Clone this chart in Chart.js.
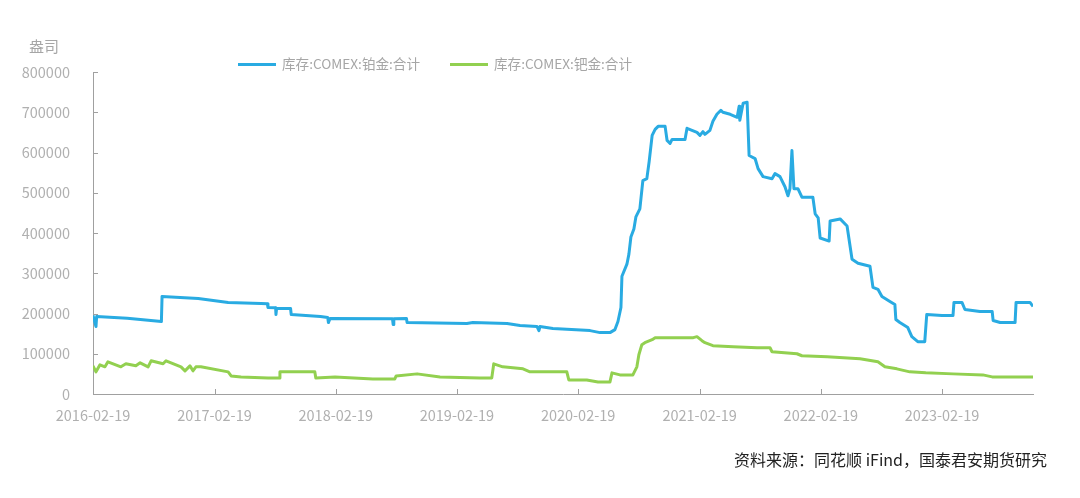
<!DOCTYPE html>
<html>
<head>
<meta charset="utf-8">
<script src="https://cdn.jsdelivr.net/npm/chart.js@4"></script>
<style>
  body { margin: 0; background: #fff; }
  #wrap { position: relative; width: 1080px; height: 498px; font-family: "Noto Sans CJK SC", "Noto Sans", sans-serif; }
  #unit { position: absolute; left: 29px; top: 35px; font-size: 15px; color: #a6a6a6; }
  .leg { position: absolute; top: 53px; font-size: 13.6px; color: #a6a6a6; line-height: 20px; }
  .leg i { display: inline-block; width: 38px; height: 3px; vertical-align: middle; margin-right: 6px; position: relative; top: -1px; }
  #src { position: absolute; right: 33px; top: 447px; font-size: 16px; color: #222; }
</style>
</head>
<body>
<div id="wrap">
  <canvas id="c" width="1080" height="498"></canvas>
  <div id="unit">盎司</div>
  <div class="leg" style="left:238px"><i style="background:#29abe2"></i>库存:COMEX:铂金:合计</div>
  <div class="leg" style="left:450px"><i style="background:#92d050"></i>库存:COMEX:钯金:合计</div>
  <div id="src">资料来源：同花顺 iFind，国泰君安期货研究</div>
</div>
<script>
// 铂金库存
const platDates = ['2016-02-19','2016-02-28','2016-03-01','2016-06-01','2016-09-12','2016-09-14','2017-01-01','2017-04-01','2017-07-09',
  '2017-07-28','2017-07-30','2017-08-22','2017-08-23','2017-08-25','2017-10-06','2017-10-08','2018-01-04','2018-01-26','2018-01-28',
  '2018-02-02','2018-08-09','2018-08-11','2018-08-13','2018-09-20','2018-09-22','2019-03-21','2019-04-08','2019-07-20','2019-08-28',
  '2019-10-18','2019-10-24','2019-10-27','2019-12-05','2020-03-26','2020-04-25','2020-05-25','2020-06-09','2020-06-18','2020-06-27',
  '2020-06-30','2020-07-15','2020-07-21','2020-07-27','2020-08-05','2020-08-11','2020-08-23','2020-09-01','2020-09-13','2020-09-20',
  '2020-09-29','2020-10-08','2020-10-17','2020-11-07','2020-11-13','2020-11-22','2020-11-28','2021-01-06','2021-01-12','2021-02-11',
  '2021-02-20','2021-03-01','2021-03-07','2021-03-22','2021-03-31','2021-04-12','2021-04-24','2021-04-30','2021-05-22','2021-06-12',
  '2021-06-18','2021-06-20','2021-06-30','2021-07-12','2021-07-18','2021-08-05','2021-08-14','2021-08-29','2021-09-25','2021-10-04',
  '2021-10-19','2021-11-03','2021-11-12','2021-11-18','2021-11-24','2021-11-30','2021-12-12','2021-12-24','2022-01-26','2022-02-02',
  '2022-02-11','2022-02-17','2022-03-16','2022-03-19','2022-04-18','2022-05-09','2022-05-24','2022-06-11','2022-07-17','2022-07-26',
  '2022-08-10','2022-08-22','2022-09-15','2022-09-30','2022-10-03','2022-10-15','2022-11-08','2022-11-20','2022-12-08','2022-12-29',
  '2023-01-04','2023-02-19','2023-03-24','2023-03-27','2023-04-20','2023-04-29','2023-06-13','2023-07-20','2023-07-23','2023-08-13',
  '2023-09-27','2023-09-30','2023-11-11','2023-11-20'];
const platValues = [195000,167500,192500,188000,180000,242500,237500,227500,225000,
  224000,215000,214000,197500,213000,212500,197500,192500,190000,177500,
  187500,187000,172500,187000,187500,177500,175000,177500,175000,170000,
  168000,157500,167500,162500,157500,152500,152500,160000,180000,215000,
  292500,322500,347500,390000,410000,440000,460000,530000,535000,577500,
  642500,657500,665000,665000,630000,622500,632500,632500,660000,650000,
  642500,652000,645000,655000,677500,695000,705000,700000,695000,687500,
  715000,680000,722500,725000,592500,585000,560000,540000,535000,547500,
  540000,515000,492500,510000,605000,510000,510000,489000,489000,447500,
  437500,387500,380000,430000,435000,417500,335000,325000,317500,265000,
  260000,242500,230000,222500,185000,177500,165000,142500,130000,130000,
  197500,195000,195000,227500,227500,210000,205000,205000,182500,177500,
  177500,227500,227500,217500];

// 钯金库存
const pallDates = ['2016-02-19','2016-02-28','2016-03-11','2016-03-26','2016-04-04','2016-05-13','2016-05-28','2016-06-27','2016-07-10',
  '2016-08-03','2016-08-12','2016-09-17','2016-09-26','2016-11-10','2016-11-22','2016-12-07','2016-12-16','2016-12-25','2017-01-09',
  '2017-04-01','2017-04-10','2017-05-10','2017-07-30','2017-09-02','2017-09-04','2017-12-18','2017-12-21','2018-02-17','2018-06-11',
  '2018-08-16','2018-08-20','2018-10-22','2018-12-30','2019-04-29','2019-06-04','2019-06-10','2019-07-07','2019-09-06','2019-09-27',
  '2020-01-16','2020-01-22','2020-03-16','2020-04-19','2020-05-25','2020-05-31','2020-06-24','2020-08-02','2020-08-14','2020-08-20',
  '2020-08-29','2020-09-07','2020-09-29','2020-10-08','2021-01-31','2021-02-11','2021-02-26','2021-03-07','2021-03-31','2021-05-31',
  '2021-08-11','2021-09-19','2021-09-25','2021-12-09','2021-12-24','2022-03-10','2022-06-17','2022-08-10','2022-08-31','2022-10-06',
  '2022-11-14','2023-01-01','2023-03-24','2023-06-22','2023-07-20','2023-11-20'];
const pallValues = [70000,55000,72500,67500,80000,67500,75000,70000,77500,
  67500,82500,75000,82500,67500,57500,70000,57500,67500,67500,
  55000,45000,42500,40000,40000,55000,55000,40000,42500,37500,
  37500,45000,50000,42500,40000,40000,75000,67500,62500,55000,
  55000,35000,35000,30000,30000,52500,47500,47500,67500,97500,
  122500,127500,135000,140000,140000,142500,132500,127500,120000,117500,
  115000,115000,105000,100000,95000,92500,87500,80000,67500,62500,
  55000,52500,50000,47500,42500,42500];

const tickDates = ['2016-02-19','2017-02-19','2018-02-19','2019-02-19','2020-02-19','2021-02-19','2022-02-19','2023-02-19'];
const endDate = '2023-11-20';

const toPts = (ds, vs) => ds.map((d, i) => ({ x: Date.parse(d), y: vs[i] }));

const axisGray = '#a0a0a0';
const labelGray = '#b0b0b0';
const font = { family: '"Noto Sans CJK SC", "Noto Sans", sans-serif', size: 14.5 };

// small tick marks pointing into the plot
const innerTicks = {
  id: 'innerTicks',
  afterDraw(chart) {
    const ctx = chart.ctx, x = chart.scales.x, y = chart.scales.y;
    ctx.save();
    ctx.strokeStyle = axisGray;
    ctx.lineWidth = 1;
    ctx.beginPath();
    x.ticks.forEach(t => {
      const px = Math.round(x.getPixelForValue(t.value)) + 0.5;
      ctx.moveTo(px, x.top); ctx.lineTo(px, x.top - 5);
    });
    y.ticks.forEach(t => {
      const py = Math.round(y.getPixelForValue(t.value)) + 0.5;
      ctx.moveTo(y.right, py); ctx.lineTo(y.right + 5, py);
    });
    ctx.stroke();
    ctx.restore();
  }
};

new Chart(document.getElementById('c'), {
  type: 'line',
  data: {
    datasets: [{
      label: '库存:COMEX:铂金:合计',
      data: toPts(platDates, platValues),
      borderColor: '#29abe2',
      borderWidth: 3,
      borderJoinStyle: 'round',
      pointRadius: 0,
      tension: 0
    }, {
      label: '库存:COMEX:钯金:合计',
      data: toPts(pallDates, pallValues),
      borderColor: '#92d050',
      borderWidth: 3,
      borderJoinStyle: 'round',
      pointRadius: 0,
      tension: 0
    }]
  },
  options: {
    responsive: false,
    animation: false,
    layout: { padding: { top: 72, right: 47, left: 0, bottom: 0 } },
    plugins: { legend: { display: false }, tooltip: { enabled: false } },
    scales: {
      x: {
        type: 'linear',
        min: Date.parse(tickDates[0]),
        max: Date.parse(endDate),
        afterBuildTicks: s => { s.ticks = tickDates.map(d => ({ value: Date.parse(d) })); },
        afterFit: s => { s.height = 104; },
        grid: { display: false },
        border: { color: axisGray },
        ticks: {
          color: labelGray, font, padding: 5, maxRotation: 0, autoSkip: false,
          callback: (v, i) => tickDates[i]
        }
      },
      y: {
        min: 0,
        max: 800000,
        afterFit: s => { s.width = 93; },
        grid: { display: false },
        border: { color: axisGray },
        ticks: { stepSize: 100000, color: labelGray, font, padding: 15, callback: v => String(v) }
      }
    }
  },
  plugins: [innerTicks]
});
</script>
</body>
</html>
